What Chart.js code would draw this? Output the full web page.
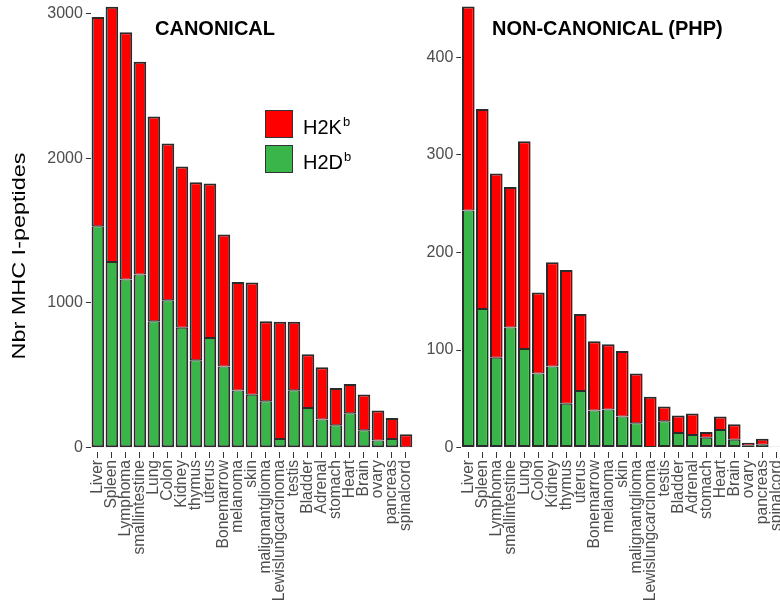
<!DOCTYPE html>
<html>
<head>
<meta charset="utf-8">
<script src="https://cdn.jsdelivr.net/npm/chart.js@4.4.0/dist/chart.umd.min.js"></script>
<style>
  html, body { margin: 0; padding: 0; background: #fff; overflow: hidden; }
  #wrap { position: relative; width: 780px; height: 610px; overflow: hidden; background: #fff; }
  #wrap canvas { position: absolute; top: 0; }
  #cLeft { left: 0; }
  #cRight { left: 420px; }
  .ptitle { position: absolute; font: bold 20px 'Liberation Sans', Arial, sans-serif; color: #000; white-space: nowrap; line-height: 20px; }
  .key { position: absolute; width: 26px; height: 26px; border: 1.5px solid #333; }
  .keylab { position: absolute; font: 20px 'Liberation Sans', Arial, sans-serif; color: #000; line-height: 28px; white-space: nowrap; }
  .keylab span { font-size: 13px; position: relative; top: -8px; margin-left: 1px; }
</style>
</head>
<body>
<div id="wrap">
  <canvas id="cLeft" width="420" height="610"></canvas>
  <canvas id="cRight" width="380" height="610"></canvas>
  <div class="ptitle" style="left:155px;top:18px;">CANONICAL</div>
  <div class="ptitle" style="left:492px;top:18px;">NON-CANONICAL (PHP)</div>
  <div id="legend"></div>
</div>
<script>
// Tissues, ordered as on the x axis
const tissues = ["Liver", "Spleen", "Lymphoma", "smallintestine", "Lung", "Colon", "Kidney",
  "thymus", "uterus", "Bonemarrow", "melanoma", "skin", "malignantglioma",
  "Lewislungcarcinoma", "testis", "Bladder", "Adrenal", "stomach", "Heart", "Brain",
  "ovary", "pancreas", "spinalcord"];

// Canonical MHC I peptides per allele
const canonH2Db = [1529, 1283, 1161, 1196, 873, 1018, 829, 603, 758, 560, 394, 366, 320,
  60, 396, 274, 194, 154, 237, 120, 50, 60, 0];
const canonH2Kb = [1445, 1762, 1709, 1469, 1415, 1083, 1113, 1231, 1067, 912, 751, 774, 553,
  809, 473, 371, 361, 258, 203, 248, 206, 145, 92];

// Non-canonical (PHP) MHC I peptides per allele
const phpH2Db = [243, 142, 92, 123, 101, 76, 83, 45, 58, 38, 39, 32, 25,
  0, 27, 15, 13, 10, 18, 8, 2, 3, 0];
const phpH2Kb = [209, 205, 189, 144, 213, 83, 107, 137, 79, 71, 67, 67, 51,
  52, 15, 18, 22, 6, 14, 16, 3, 6, 1];

const canonTicks = [0, 1000, 2000, 3000];
const phpTicks = [0, 100, 200, 300, 400];

const alleleNames = ["H2K", "H2D"];
const alleleColors = ["#ff0000", "#3ab54a"];
const yAxisTitle = "Nbr MHC I-peptides";

Chart.defaults.font.family = "'Liberation Sans', Arial, sans-serif";
Chart.defaults.animation = false;

// Vertical axis title, drawn a little elongated along its reading direction
const yTitlePlugin = {
  id: 'yTitle',
  afterDraw(chart, args, opts) {
    if (!opts.text) return;
    const ctx = chart.ctx;
    ctx.save();
    ctx.translate(opts.x, opts.y);
    ctx.rotate(-Math.PI / 2);
    ctx.scale(1.26, 1);
    ctx.font = "18.6px 'Liberation Sans', Arial, sans-serif";
    ctx.fillStyle = '#000';
    ctx.textAlign = 'center';
    ctx.textBaseline = 'alphabetic';
    ctx.fillText(opts.text, 0, 0);
    ctx.restore();
  }
};

const edge = '#2b2b2b';

function makePanel(canvasId, kb, db, tickVals, yMin, yMax, axisWidth, padRight, yTitle) {
  return new Chart(document.getElementById(canvasId), {
    type: 'bar',
    plugins: [yTitlePlugin],
    data: {
      labels: tissues,
      datasets: [
        { label: 'H2Db', data: db, backgroundColor: alleleColors[1], borderColor: edge,
          borderWidth: { top: 1, left: 2, right: 2, bottom: 2 }, borderSkipped: false,
          categoryPercentage: 0.9, barPercentage: 1 },
        { label: 'H2Kb', data: kb, backgroundColor: alleleColors[0], borderColor: edge,
          borderWidth: { top: 2, left: 2, right: 2, bottom: 1 }, borderSkipped: false,
          categoryPercentage: 0.9, barPercentage: 1 }
      ]
    },
    options: {
      responsive: false,
      maintainAspectRatio: false,
      devicePixelRatio: 1,
      layout: { padding: { left: 0, right: padRight, top: 0, bottom: 0 } },
      plugins: {
        legend: { display: false }, tooltip: { enabled: false }, title: { display: false },
        yTitle: { text: yTitle, x: 25, y: 256 }
      },
      scales: {
        x: {
          stacked: true,
          offset: true,
          grid: { offset: false, drawOnChartArea: false, drawTicks: true, tickLength: 6, tickColor: '#333', tickWidth: 1 },
          border: { display: false },
          ticks: { autoSkip: false, maxRotation: 90, minRotation: 90, padding: 2, color: '#4d4d4d', font: { size: 15.6 } },
          afterFit(s) { s.height = 158; s.paddingLeft = 0; s.paddingRight = 0; }
        },
        y: {
          stacked: true,
          min: yMin,
          max: yMax,
          afterBuildTicks(s) { s.ticks = tickVals.map(v => ({ value: v })); },
          grid: { drawOnChartArea: false, drawTicks: true, tickLength: 5, tickColor: '#333', tickWidth: 1 },
          border: { display: false },
          ticks: { padding: 3, color: '#4d4d4d', font: { size: 16 }, callback: v => String(v) },
          title: { display: false },
          afterFit(s) { s.width = axisWidth; s.paddingTop = 0; s.paddingBottom = 0; }
        }
      }
    }
  });
}

makePanel('cLeft', canonH2Kb, canonH2Db, canonTicks, -30, 3092, 90.9, 7, yAxisTitle);
makePanel('cRight', phpH2Kb, phpH2Db, phpTicks, -4.5, 458.7, 41.3, 16.7, null);

// Allele key
const legend = document.getElementById('legend');
alleleNames.forEach((name, i) => {
  const top = 110 + i * 35;
  const sw = document.createElement('div');
  sw.className = 'key';
  sw.style.left = '265px';
  sw.style.top = top + 'px';
  sw.style.background = alleleColors[i];
  legend.appendChild(sw);
  const lab = document.createElement('div');
  lab.className = 'keylab';
  lab.style.left = '303px';
  lab.style.top = (top + 3) + 'px';
  lab.innerHTML = name + '<span>b</span>';
  legend.appendChild(lab);
});
</script>
</body>
</html>
